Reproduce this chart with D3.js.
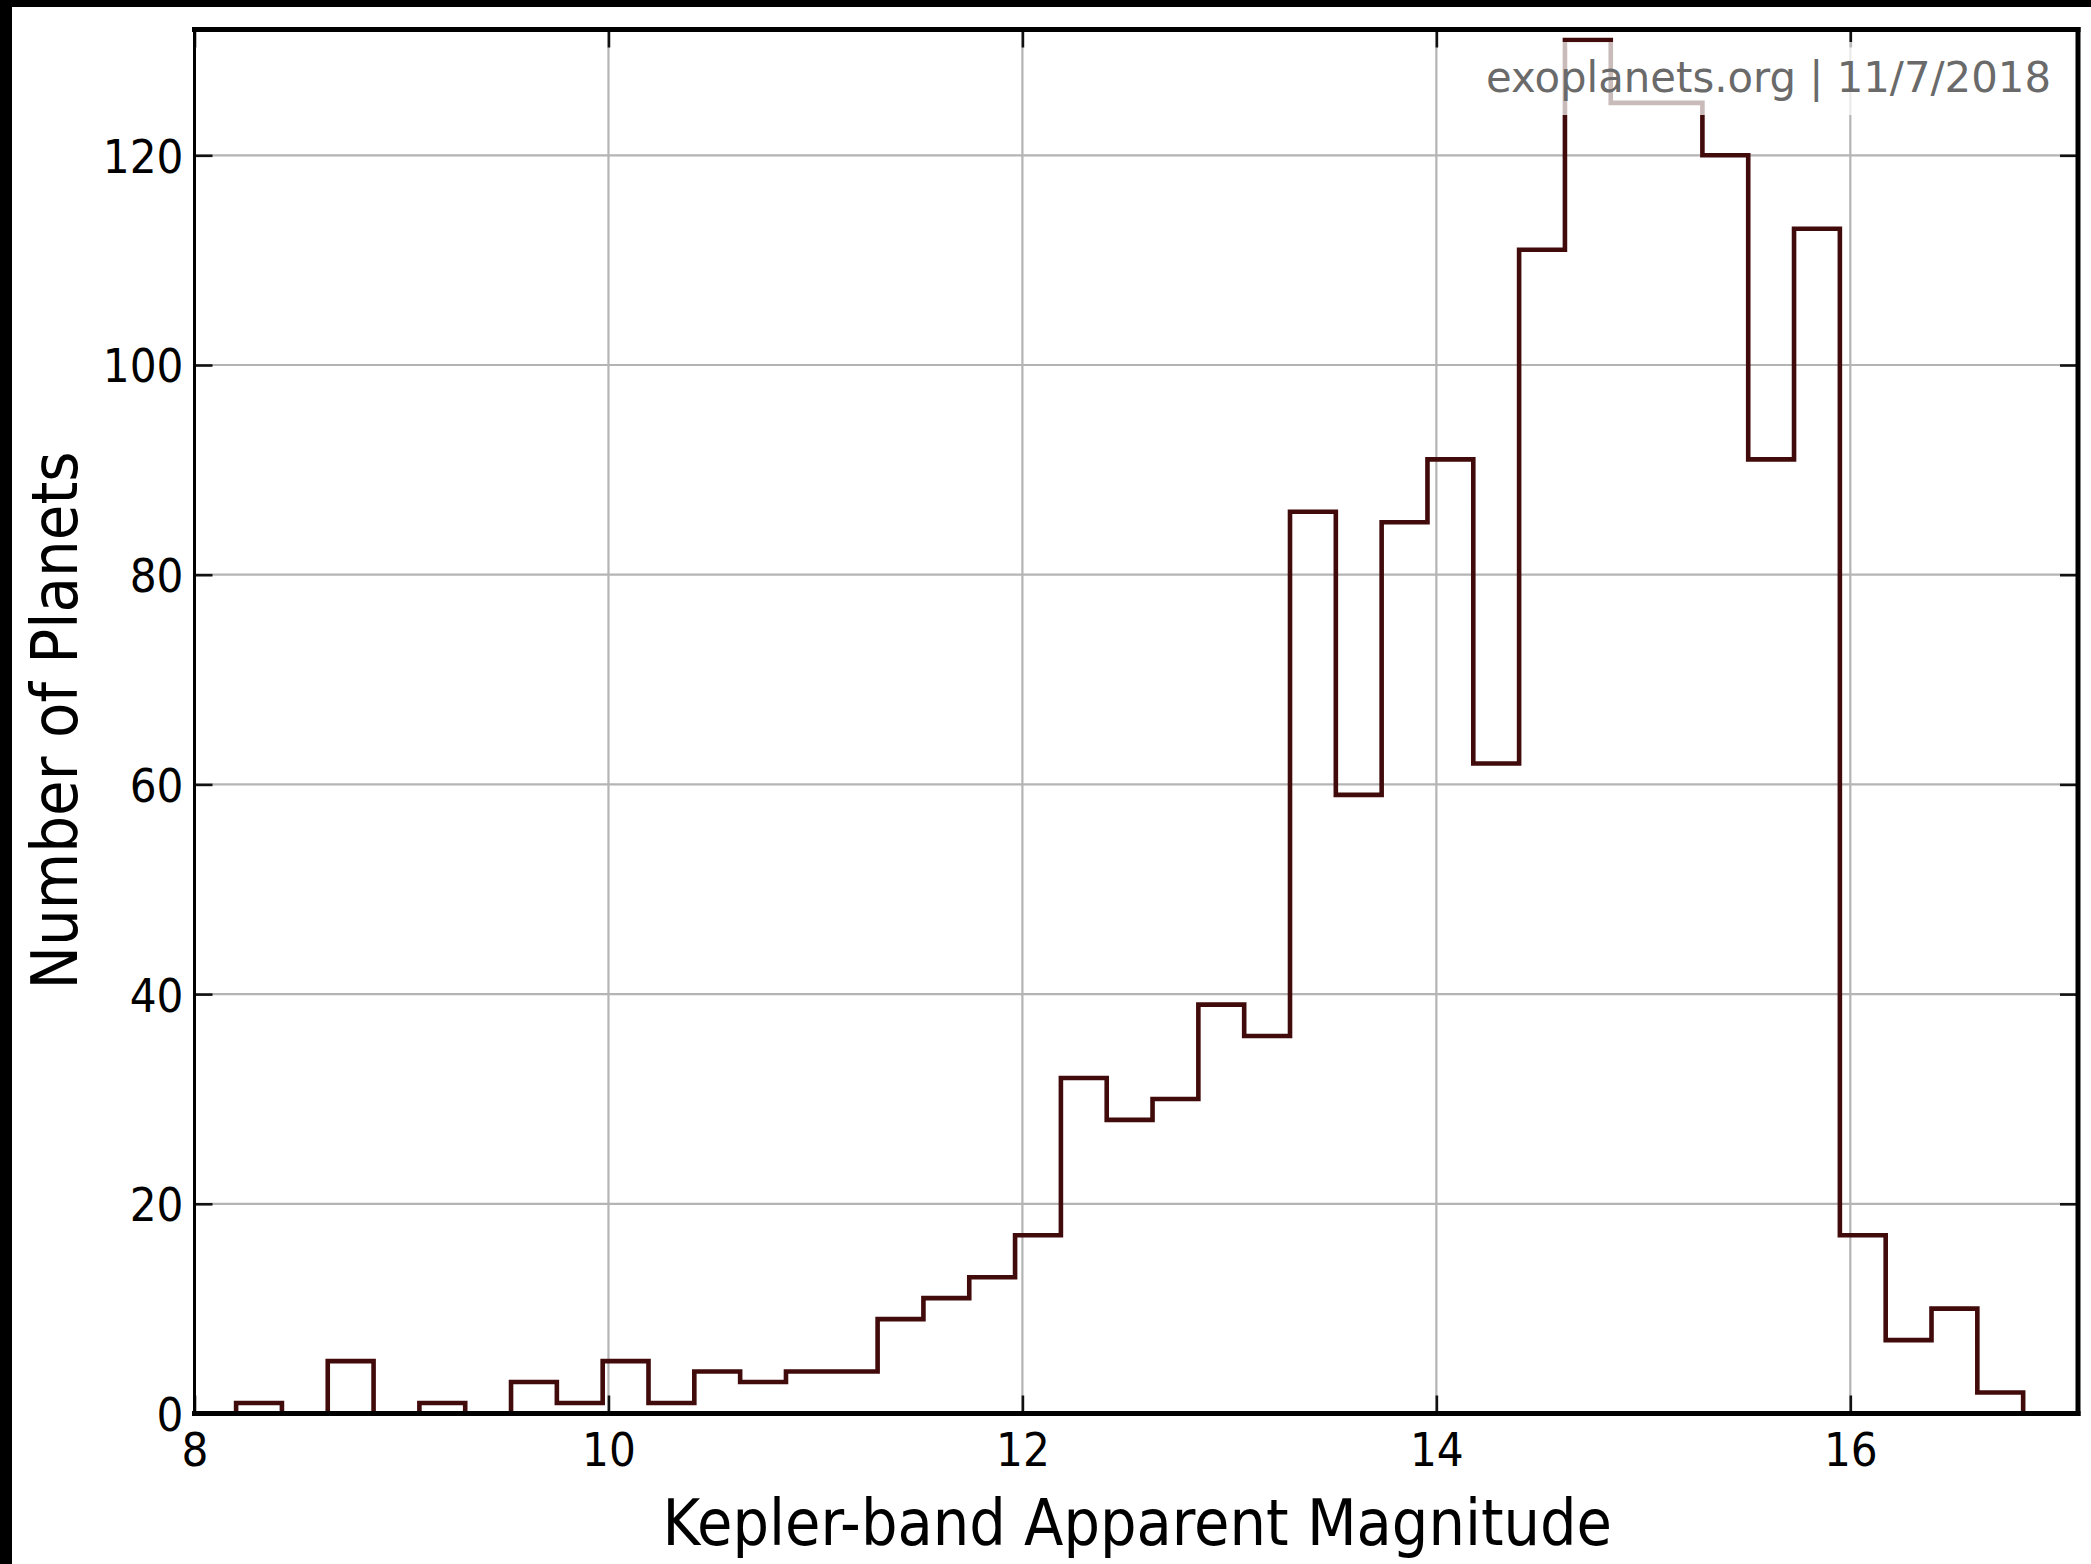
<!DOCTYPE html>
<html>
<head>
<meta charset="utf-8">
<script src="https://cdn.jsdelivr.net/npm/d3@7"></script>
<style>
  html, body { margin: 0; padding: 0; background: #fff; }
  svg { display: block; }
  text { font-family: "DejaVu Sans Condensed", "DejaVu Sans", sans-serif; font-stretch: condensed; }
  text.stamp { font-family: "DejaVu Sans", sans-serif; font-stretch: normal; }
</style>
</head>
<body>
<svg id="chart" width="2091" height="1564"></svg>
<script>
// Kepler-band magnitude histogram of confirmed planets (bin counts)
const binStart = 8.201;
const binEnd = 16.835;
const counts = [1, 0, 5, 0, 1, 0, 3, 1, 5, 1,
                4, 3, 4, 4, 9, 11, 13, 17, 32, 28,
                30, 39, 36, 86, 59, 85, 91, 62, 111, 131,
                125, 125, 120, 91, 113, 17, 7, 10, 2];
const xTicks = [8, 10, 12, 14, 16];
const yTicks = [0, 20, 40, 60, 80, 100, 120];
const xDomain = [8, 17.1];
const yDomain = [0, 132];
const xTitle = "Kepler-band Apparent Magnitude";
const yTitle = "Number of Planets";
const stamp = "exoplanets.org | 11/7/2018";

const W = 2091, H = 1564;
const plot = { left: 194.5, right: 2078, top: 29.5, bottom: 1413.5 };

const svg = d3.select("#chart");
svg.append("rect").attr("width", W).attr("height", H).attr("fill", "#fff");
// dark frame strips along the top and left edges of the image
svg.append("rect").attr("x", 0).attr("y", 0).attr("width", W).attr("height", 7).attr("fill", "#000");
svg.append("rect").attr("x", 0).attr("y", 0).attr("width", 12).attr("height", H).attr("fill", "#000");

const x = d3.scaleLinear().domain(xDomain).range([plot.left, plot.right]);
const y = d3.scaleLinear().domain(yDomain).range([plot.bottom, plot.top]);

// grid
const grid = svg.append("g").attr("stroke", "#b4b4b4").attr("stroke-width", 2.2);
grid.selectAll("line.gx").data(xTicks.filter(t => t > xDomain[0])).join("line")
  .attr("x1", d => x(d)).attr("x2", d => x(d))
  .attr("y1", plot.top).attr("y2", plot.bottom);
grid.selectAll("line.gy").data(yTicks.filter(t => t > yDomain[0])).join("line")
  .attr("y1", d => y(d)).attr("y2", d => y(d))
  .attr("x1", plot.left).attr("x2", plot.right);

// histogram outline (step)
const nb = counts.length;
const bw = (binEnd - binStart) / nb;
const pts = [[binStart, 0]];
counts.forEach((c, i) => {
  pts.push([binStart + i * bw, c]);
  pts.push([binStart + (i + 1) * bw, c]);
});
pts.push([binEnd, 0]);
svg.append("path")
  .datum(pts)
  .attr("fill", "none")
  .attr("stroke", "#420b0b")
  .attr("stroke-width", 4.6)
  .attr("stroke-linejoin", "miter")
  .attr("d", d3.line().x(d => x(d[0])).y(d => y(d[1])));

// axes with inward ticks on all four sides
const tickLen = 18;
const axB = svg.append("g").attr("transform", `translate(0,${plot.bottom})`)
  .call(d3.axisBottom(x).tickValues(xTicks).tickSize(-tickLen).tickPadding(0).tickFormat(d3.format("d")));
const axT = svg.append("g").attr("transform", `translate(0,${plot.top})`)
  .call(d3.axisTop(x).tickValues(xTicks).tickSize(-tickLen).tickFormat(""));
const axL = svg.append("g").attr("transform", `translate(${plot.left},0)`)
  .call(d3.axisLeft(y).tickValues(yTicks).tickSize(-tickLen).tickPadding(0).tickFormat(d3.format("d")));
const axR = svg.append("g").attr("transform", `translate(${plot.right},0)`)
  .call(d3.axisRight(y).tickValues(yTicks).tickSize(-tickLen).tickFormat(""));

[axB, axT, axL, axR].forEach(a => {
  a.select(".domain").remove();
  a.attr("font-family", null).attr("font-size", null);
  a.selectAll(".tick line").attr("stroke", "#111").attr("stroke-width", 2.6);
});
axB.selectAll(".tick text")
  .attr("y", 0).attr("dy", null)
  .attr("transform", "translate(0,52)")
  .attr("font-size", 47).attr("fill", "#000");
axL.selectAll(".tick text")
  .attr("x", -11).attr("dy", "0.36em")
  .attr("font-size", 47).attr("fill", "#000");

// stamp with translucent backing box
svg.append("rect")
  .attr("x", 1476).attr("y", 42).attr("width", 586).attr("height", 73)
  .attr("fill", "#fff").attr("fill-opacity", 0.72);
svg.append("text")
  .attr("class", "stamp")
  .attr("x", 2051).attr("y", 92)
  .attr("text-anchor", "end")
  .attr("font-size", 41.8)
  .attr("fill", "#6a6a6a")
  .text(stamp);

// spines
const spine = svg.append("g").attr("stroke", "#000").attr("stroke-linecap", "square");
spine.append("line").attr("x1", plot.left).attr("x2", plot.right).attr("y1", plot.top).attr("y2", plot.top).attr("stroke-width", 5);
spine.append("line").attr("x1", plot.left).attr("x2", plot.right).attr("y1", plot.bottom).attr("y2", plot.bottom).attr("stroke-width", 5);
spine.append("line").attr("x1", plot.right).attr("x2", plot.right).attr("y1", plot.top).attr("y2", plot.bottom).attr("stroke-width", 5);
spine.append("line").attr("x1", plot.left).attr("x2", plot.left).attr("y1", plot.top).attr("y2", plot.bottom).attr("stroke-width", 3);

// axis titles
svg.append("text")
  .attr("x", (plot.left + plot.right) / 2 + 1).attr("y", 1545)
  .attr("text-anchor", "middle")
  .attr("font-size", 64).attr("fill", "#000")
  .text(xTitle);
svg.append("text")
  .attr("transform", `translate(77,${(plot.top + plot.bottom) / 2 - 1}) rotate(-90)`)
  .attr("text-anchor", "middle")
  .attr("font-size", 64.5).attr("fill", "#000")
  .text(yTitle);
</script>
</body>
</html>
